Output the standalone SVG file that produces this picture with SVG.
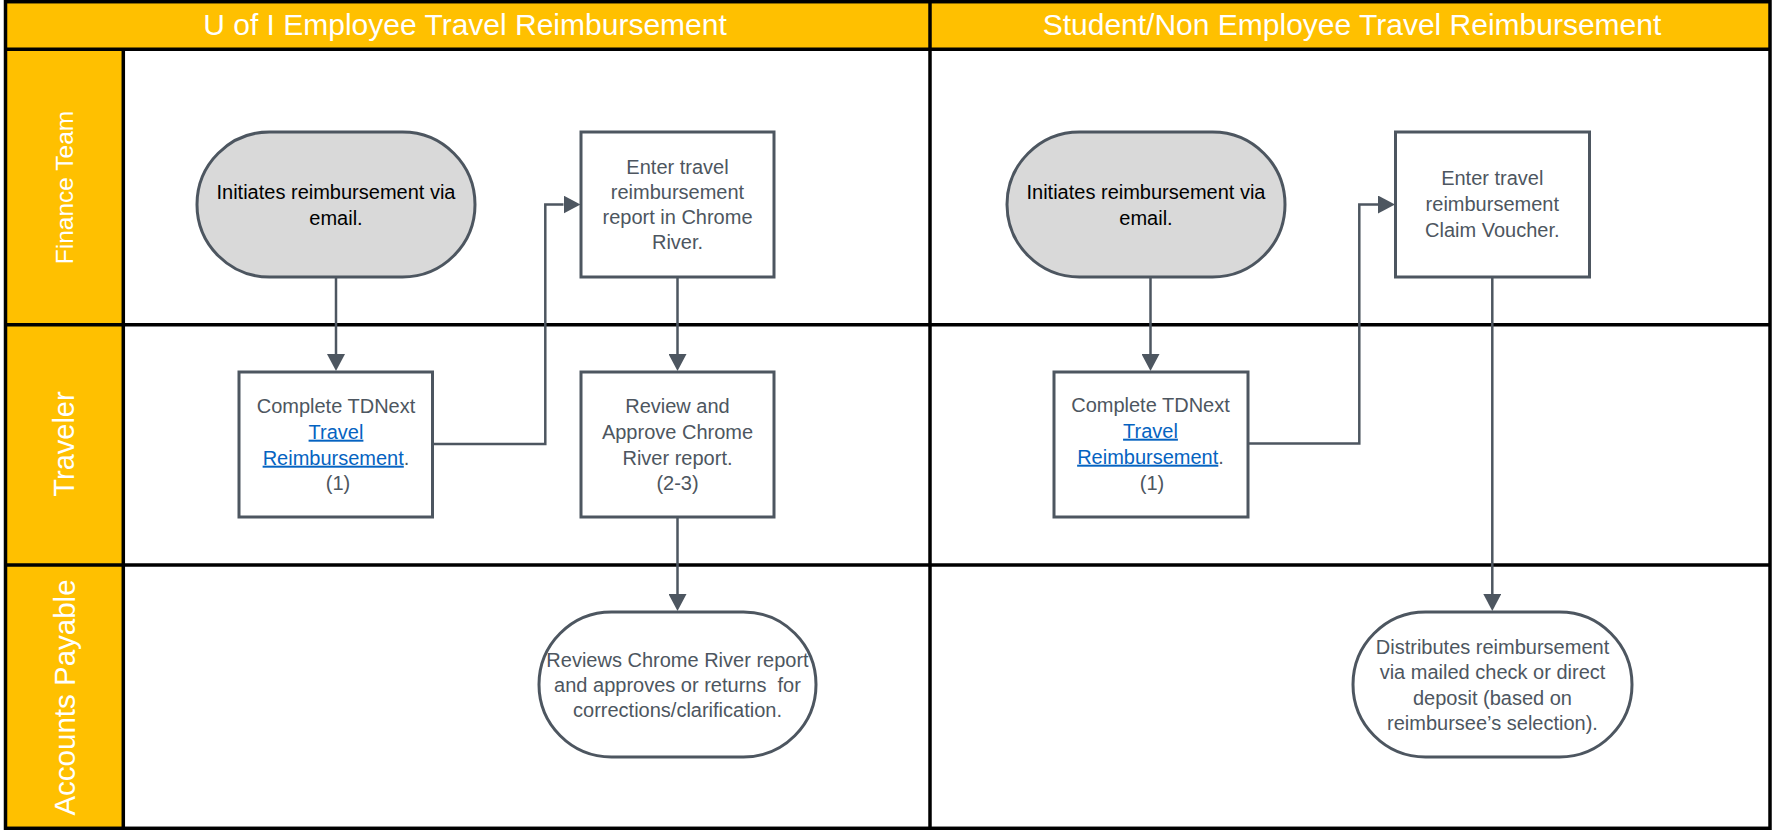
<svg xmlns="http://www.w3.org/2000/svg" width="1775" height="830" viewBox="0 0 1775 830">
  <style>
    .hdr { font-family: "Liberation Sans", Arial, sans-serif; font-size: 30px; fill: #ffffff; text-anchor: middle; }
    .lane { font-family: "Liberation Sans", Arial, sans-serif; fill: #ffffff; text-anchor: middle; }
    .grid { stroke: #000000; stroke-width: 3.5; fill: none; }
    .shape { stroke: #4D5660; stroke-width: 3; fill: #ffffff; }
    .start { stroke: #4D5660; stroke-width: 3; fill: #D9D9D9; }
    .t { font-family: "Liberation Sans", Arial, sans-serif; font-size: 20px; fill: #4D5660; text-anchor: middle; }
    .tb { font-family: "Liberation Sans", Arial, sans-serif; font-size: 20px; fill: #000000; text-anchor: middle; }
    .link { fill: #0563C1; text-decoration: underline; }
    .conn { stroke: #4D5660; stroke-width: 2.5; fill: none; }
  </style>
  <defs>
    <marker id="arrow" markerUnits="userSpaceOnUse" viewBox="0 0 17 18" refX="0" refY="9" markerWidth="17" markerHeight="18" orient="auto">
      <path d="M0,0 L17,9 L0,18 z" fill="#4D5660"/>
    </marker>
  </defs>

  <g id="background">
    <rect x="0" y="0" width="1775" height="830" fill="#ffffff"/>
    <rect x="5.5" y="1.7" width="1764.5" height="47.5" fill="#FFC000"/>
    <rect x="5.5" y="49" width="117.8" height="779" fill="#FFC000"/>
  </g>

  <g id="grid">
    <rect class="grid" x="5.5" y="1.7" width="1764.5" height="826.6"/>
    <line class="grid" x1="5.5" y1="49.2" x2="1770" y2="49.2"/>
    <line class="grid" x1="5.5" y1="324.8" x2="1770" y2="324.8"/>
    <line class="grid" x1="5.5" y1="565" x2="1770" y2="565"/>
    <line class="grid" x1="123.3" y1="49.2" x2="123.3" y2="828.3"/>
    <line class="grid" x1="930" y1="1.7" x2="930" y2="828.3"/>
  </g>

  <g id="headers">
    <text class="hdr" x="465" y="35">U of I Employee Travel Reimbursement</text>
    <text class="hdr" x="1352" y="35">Student/Non Employee Travel Reimbursement</text>
  </g>

  <g id="lane-finance">
    <text class="lane" font-size="24.5" transform="translate(64,187.5) rotate(-90)" x="0" y="8.8">Finance Team</text>
  </g>
  <g id="lane-traveler">
    <text class="lane" font-size="29" transform="translate(64,444) rotate(-90)" x="0" y="10.4">Traveler</text>
  </g>
  <g id="lane-ap">
    <text class="lane" font-size="29.5" transform="translate(64,697.5) rotate(-90)" x="0" y="10.6">Accounts Payable</text>
  </g>

  <g id="connectors">
    <path class="conn" d="M336,277 L336,354" marker-end="url(#arrow)"/>
    <path class="conn" d="M432.5,444 L545.3,444 L545.3,204.5 L563.5,204.5" marker-end="url(#arrow)"/>
    <path class="conn" d="M677.5,277 L677.5,354" marker-end="url(#arrow)"/>
    <path class="conn" d="M677.5,517 L677.5,594" marker-end="url(#arrow)"/>
    <path class="conn" d="M1150.5,277 L1150.5,354" marker-end="url(#arrow)"/>
    <path class="conn" d="M1248,443.5 L1359.3,443.5 L1359.3,204.5 L1378,204.5" marker-end="url(#arrow)"/>
    <path class="conn" d="M1492.3,277 L1492.3,594" marker-end="url(#arrow)"/>
  </g>

  <g id="n1-initiates-employee">
    <rect class="start" x="197" y="132" width="278" height="145" rx="72.5" ry="72.5"/>
    <text class="tb" x="336" y="199">Initiates reimbursement via</text>
    <text class="tb" x="336" y="225">email.</text>
  </g>

  <g id="n2-enter-chrome-river">
    <rect class="shape" x="581" y="132" width="193" height="145"/>
    <text class="t" x="677.5" y="173.7">Enter travel</text>
    <text class="t" x="677.5" y="198.9">reimbursement</text>
    <text class="t" x="677.5" y="224.3">report in Chrome</text>
    <text class="t" x="677.5" y="249.3">River.</text>
  </g>

  <g id="n3-complete-tdnext-employee">
    <rect class="shape" x="239" y="372" width="193.5" height="145"/>
    <text class="t" x="336" y="413">Complete TDNext</text>
    <text class="t" x="336" y="438.7"><tspan class="link">Travel</tspan></text>
    <text class="t" x="336" y="464.7"><tspan class="link">Reimbursement</tspan>.</text>
    <text class="t" x="338" y="490.3">(1)</text>
  </g>

  <g id="n4-review-approve">
    <rect class="shape" x="581" y="372" width="193" height="145"/>
    <text class="t" x="677.5" y="413">Review and</text>
    <text class="t" x="677.5" y="438.7">Approve Chrome</text>
    <text class="t" x="677.5" y="464.7">River report.</text>
    <text class="t" x="677.5" y="490.3">(2-3)</text>
  </g>

  <g id="n5-ap-reviews">
    <rect class="shape" x="539" y="612" width="277" height="145" rx="72.5" ry="72.5"/>
    <text class="t" x="677.5" y="667">Reviews Chrome River report</text>
    <text class="t" x="677.5" y="691.8" style="white-space:pre">and approves or returns  for</text>
    <text class="t" x="677.5" y="717">corrections/clarification.</text>
  </g>

  <g id="n6-initiates-student">
    <rect class="start" x="1007" y="132" width="278" height="145" rx="72.5" ry="72.5"/>
    <text class="tb" x="1146" y="199">Initiates reimbursement via</text>
    <text class="tb" x="1146" y="225">email.</text>
  </g>

  <g id="n7-enter-claim-voucher">
    <rect class="shape" x="1395.5" y="132" width="194" height="145"/>
    <text class="t" x="1492.3" y="185.3">Enter travel</text>
    <text class="t" x="1492.3" y="211">reimbursement</text>
    <text class="t" x="1492.3" y="237">Claim Voucher.</text>
  </g>

  <g id="n8-complete-tdnext-student">
    <rect class="shape" x="1054" y="372" width="194" height="145"/>
    <text class="t" x="1150.5" y="412">Complete TDNext</text>
    <text class="t" x="1150.5" y="437.7"><tspan class="link">Travel</tspan></text>
    <text class="t" x="1150.5" y="463.7"><tspan class="link">Reimbursement</tspan>.</text>
    <text class="t" x="1152" y="490.3">(1)</text>
  </g>

  <g id="n9-distributes">
    <rect class="shape" x="1353" y="612" width="279" height="145" rx="72.5" ry="72.5"/>
    <text class="t" x="1492.5" y="653.7">Distributes reimbursement</text>
    <text class="t" x="1492.5" y="678.7">via mailed check or direct</text>
    <text class="t" x="1492.5" y="704.7">deposit (based on</text>
    <text class="t" x="1492.5" y="730.3">reimbursee’s selection).</text>
  </g>
</svg>
